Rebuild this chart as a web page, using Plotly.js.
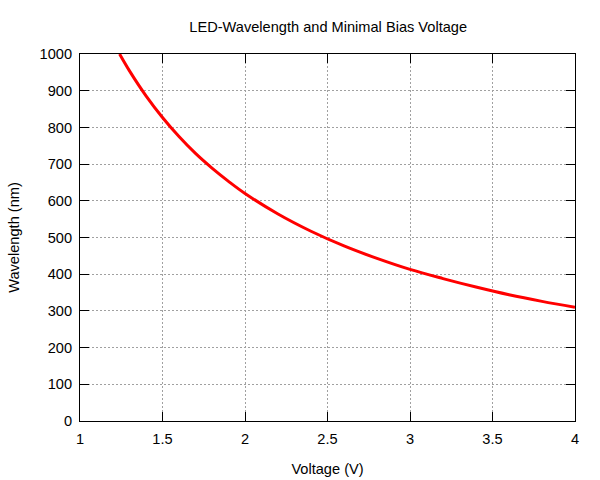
<!DOCTYPE html>
<html>
<head>
<meta charset="utf-8">
<script src="https://cdn.plot.ly/plotly-3.0.1.min.js"></script>
<style>html,body{margin:0;padding:0;background:#fff}</style>
</head>
<body>
<div id="chart" style="width:600px;height:480px"></div>
<script>
// Values
const voltage = [1.24, 1.3, 1.4, 1.5, 1.6, 1.7, 1.8, 1.9, 2.0, 2.2, 2.4, 2.6, 2.8, 3.0, 3.2, 3.4, 3.6, 3.8, 4.0];
const wavelength = [1000, 954, 886, 827, 775, 729, 689, 653, 620, 564, 517, 477, 443, 413, 388, 365, 344, 326, 310];
const xTicks = [1, 1.5, 2, 2.5, 3, 3.5, 4];
const xTickText = ['1', '1.5', '2', '2.5', '3', '3.5', '4'];
const yTicks = [0, 100, 200, 300, 400, 500, 600, 700, 800, 900, 1000];

const trace = {
  x: voltage, y: wavelength, type: 'scatter', mode: 'lines',
  line: {color: '#ff0000', width: 3, shape: 'spline'},
  hoverinfo: 'skip'
};
const font = {family: 'Liberation Sans, Arial, sans-serif', size: 14.6, color: '#000'};
const axisCommon = {
  showline: true, linecolor: '#000', linewidth: 1, mirror: 'allticks',
  ticks: 'inside', ticklen: 9, tickcolor: '#000', tickwidth: 1,
  showgrid: true, gridcolor: '#a0a0a0', griddash: '1.5px,2.5px', gridwidth: 1,
  zeroline: false, tickfont: font
};
const layout = {
  width: 600, height: 480,
  paper_bgcolor: '#fff', plot_bgcolor: '#fff',
  margin: {l: 80, r: 25, t: 54, b: 59},
  showlegend: false,
  font: font,
  title: {text: 'LED-Wavelength and Minimal Bias Voltage', font: font, x: 0.547, xanchor: 'center', y: 0.944, yanchor: 'middle'},
  xaxis: Object.assign({}, axisCommon, {
    range: [1, 4], tickvals: xTicks, ticktext: xTickText, ticklabelstandoff: 4,
    title: {text: 'Voltage (V)', font: font, standoff: 18}
  }),
  yaxis: Object.assign({}, axisCommon, {
    range: [0, 1000], tickvals: yTicks, ticklabelstandoff: 4,
    title: {text: 'Wavelength (nm)', font: font, standoff: 16}
  })
};
Plotly.newPlot('chart', [trace], layout, {displayModeBar: false, staticPlot: true});
</script>
</body>
</html>
